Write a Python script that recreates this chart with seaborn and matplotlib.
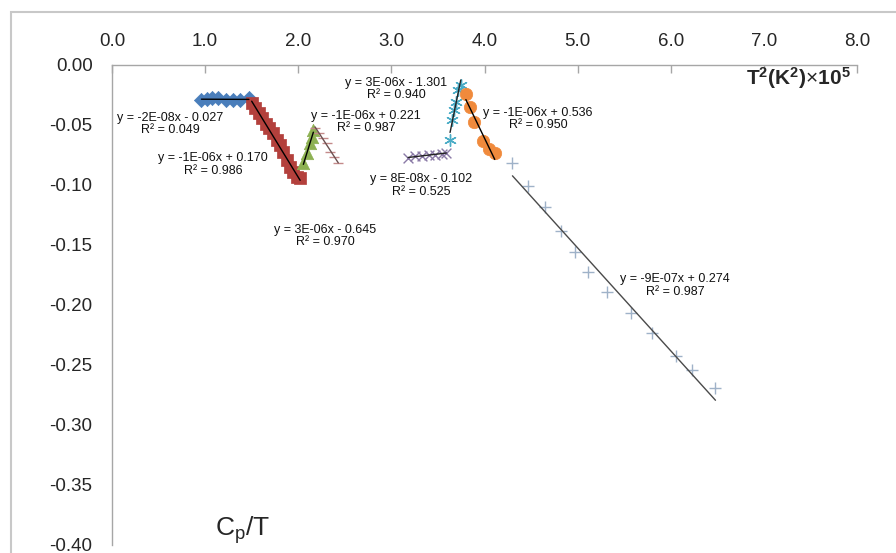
import matplotlib
matplotlib.use("Agg")
import matplotlib.pyplot as plt
import seaborn as sns
from matplotlib.patches import Rectangle

# Cp/T against T^2 (x 1e5)
blue_x = [0.96, 1.02, 1.07, 1.14, 1.22, 1.30, 1.37, 1.47]
blue_y = [-0.0292, -0.0283, -0.0277, -0.0278, -0.0292, -0.0294, -0.0293, -0.0278]

red_x = [1.50, 1.536, 1.582, 1.608, 1.654, 1.69, 1.726, 1.769, 1.805, 1.84, 1.877, 1.912, 1.947, 1.984, 2.02]
red_y = [-0.0319, -0.036, -0.0403, -0.0444, -0.0494, -0.0528, -0.057, -0.0625, -0.0667, -0.0722,
         -0.0792, -0.0847, -0.0894, -0.093, -0.094]

green_x = [2.055, 2.098, 2.127, 2.152, 2.162]
green_y = [-0.0819, -0.0731, -0.0653, -0.0597, -0.0542]

dash_x = [2.18, 2.227, 2.27, 2.306, 2.342, 2.384, 2.43]
dash_y = [-0.0528, -0.057, -0.061, -0.0653, -0.0722, -0.0769, -0.0814]

purple_x = [3.18, 3.25, 3.33, 3.40, 3.47, 3.54, 3.59]
purple_y = [-0.0775, -0.076, -0.0755, -0.075, -0.0748, -0.0742, -0.073]

cyan_x = [3.63, 3.65, 3.67, 3.69, 3.72, 3.745]
cyan_y = [-0.0625, -0.0458, -0.0375, -0.0306, -0.0208, -0.0167]

orange_x = [3.80, 3.84, 3.89, 3.98, 4.05, 4.11]
orange_y = [-0.0242, -0.0347, -0.0472, -0.0631, -0.0703, -0.0736]

plus_x = [4.30, 4.47, 4.65, 4.82, 4.97, 5.11, 5.31, 5.57, 5.80, 6.06, 6.23, 6.48]
plus_y = [-0.0819, -0.1008, -0.1186, -0.1383, -0.1556, -0.1728, -0.1889, -0.2064, -0.2231,
          -0.2425, -0.2542, -0.2694]

fit_labels = [
    "y = -2E-08x - 0.027\nR² = 0.049",
    "y = -1E-06x + 0.170\nR² = 0.986",
    "y = -1E-06x + 0.221\nR² = 0.987",
    "y = 3E-06x - 0.645\nR² = 0.970",
    "y = 3E-06x - 1.301\nR² = 0.940",
    "y = 8E-08x - 0.102\nR² = 0.525",
    "y = -1E-06x + 0.536\nR² = 0.950",
    "y = -9E-07x + 0.274\nR² = 0.987",
]
label_pos = [(0.623, -0.0492), (1.085, -0.0833), (2.728, -0.0475), (2.288, -0.1425),
             (3.05, -0.020), (3.319, -0.1008), (4.576, -0.045), (6.047, -0.184)]

sns.set_style("white")
plt.rcParams["font.family"] = ["Liberation Sans", "DejaVu Sans"]
plt.rcParams["axes.unicode_minus"] = False
plt.rcParams["mathtext.fontset"] = "custom"
plt.rcParams["mathtext.rm"] = "Liberation Sans"
plt.rcParams["mathtext.it"] = "Liberation Sans"
plt.rcParams["mathtext.bf"] = "Liberation Sans:bold"

fig = plt.figure(figsize=(8.96, 5.53), dpi=100)
ax = fig.add_axes([0.125, 0.0145, 0.8315, 0.868])

series = [
    (blue_x, blue_y, "D", "#4a7ebb", 52, "#000000"),
    (red_x, red_y, "s", "#b3403c", 80, "#000000"),
    (green_x, green_y, "^", "#8db152", 80, "#000000"),
    (dash_x, dash_y, "_", "#c48a8a", 45, "#6b5050"),
    (purple_x, purple_y, "x", "#8a7aa6", 50, "#222222"),
    (cyan_x, cyan_y, (6, 2, 0), "#4bacc6", 70, "#222222"),
    (orange_x, orange_y, "o", "#f08a3c", 80, "#000000"),
    (plus_x, plus_y, "+", "#9fb2c8", 80, "#4a4a4a"),
]
for xs, ys, mk, col, sz, lc in series:
    if mk in ("_", "x", "+") or isinstance(mk, tuple):
        sns.scatterplot(x=xs, y=ys, marker=mk, color=col, s=sz, linewidth=1.0, ax=ax, zorder=3)
    else:
        sns.scatterplot(x=xs, y=ys, marker=mk, color=col, s=sz, edgecolor=col, linewidth=0.5,
                        ax=ax, zorder=3)
    sns.regplot(x=xs, y=ys, scatter=False, ci=None, color=lc, line_kws={"lw": 1.0, "zorder": 4}, ax=ax)

for (tx, ty), txt in zip(label_pos, fit_labels):
    ax.text(tx, ty, txt, ha="center", va="center", fontsize=9, linespacing=1.1, color="#111111")

ax.set_xlim(0, 8)
ax.set_ylim(-0.40, 0.0)
ax.set_xticks([i * 1.0 for i in range(9)])
ax.set_xticklabels([f"{i:.1f}" for i in range(9)])
ax.set_yticks([-0.05 * i for i in range(9)])
ax.set_yticklabels([f"{-0.05 * i:.2f}" if i else "0.00" for i in range(9)])
ax.xaxis.tick_top()
ax.tick_params(axis="x", direction="in", length=6, width=1, color="#a6a6a6", pad=11, labelsize=13.5)
ax.tick_params(axis="y", direction="out", length=4, width=1, color="#a6a6a6", pad=10, labelsize=13.5)
ax.set_xlabel("")
ax.set_ylabel("")

for side in ("right", "bottom"):
    ax.spines[side].set_visible(False)
for side in ("top", "left"):
    ax.spines[side].set_color("#a6a6a6")
    ax.spines[side].set_linewidth(1.0)

ax.text(0.851, 1.0, r"$\mathbf{T^2(K^2)}{\times}\mathbf{10^5}$", transform=ax.transAxes,
        fontsize=15, ha="left", va="top")
ax.text(0.138, 0.03, r"$\mathrm{C_p/T}$", transform=ax.transAxes, fontsize=19, ha="left", va="center")

fig.add_artist(Rectangle((0.012, -0.1), 1.2, 1.078, transform=fig.transFigure, fill=False,
                         edgecolor="#c8c8c8", lw=1.5))

fig.savefig("out.png", dpi=100)
